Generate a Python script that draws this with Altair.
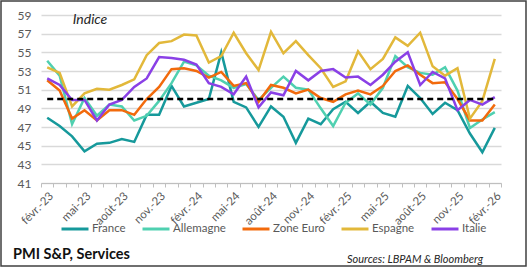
import altair as alt
import pandas as pd

# Monthly services PMI (S&P Global), Feb 2023 - Feb 2026
mois = [
    "févr.-23", "mars-23", "avr.-23", "mai-23", "juin-23", "juil.-23", "août-23",
    "sept.-23", "oct.-23", "nov.-23", "déc.-23", "janv.-24", "févr.-24", "mars-24",
    "avr.-24", "mai-24", "juin-24", "juil.-24", "août-24", "sept.-24", "oct.-24",
    "nov.-24", "déc.-24", "janv.-25", "févr.-25", "mars-25", "avr.-25", "mai-25",
    "juin-25", "juil.-25", "août-25", "sept.-25", "oct.-25", "nov.-25", "déc.-25",
    "janv.-26", "févr.-26",
]

france = [48.0, 47.1, 46.0, 44.4, 45.2, 45.3, 45.7, 45.4, 48.3, 48.3, 51.4, 49.2,
          49.6, 50.0, 55.0, 49.7, 49.1, 47.0, 49.2, 48.1, 45.3, 47.9, 47.3, 48.9,
          49.7, 48.5, 49.7, 48.5, 48.1, 51.4, 50.1, 48.4, 49.6, 48.8, 46.3, 44.3, 46.9]
allemagne = [54.1, 52.5, 47.3, 50.1, 48.2, 49.4, 49.2, 47.7, 48.2, 49.8, 51.7, 54.0,
             53.6, 52.5, 52.0, 51.2, 51.6, 49.9, 51.2, 52.4, 51.2, 51.0, 49.0, 47.1,
             49.6, 50.6, 49.4, 51.2, 54.6, 53.4, 52.8, 52.6, 53.4, 50.9, 46.9, 47.8, 48.6]
zone_euro = [52.0, 50.9, 47.9, 48.8, 47.7, 48.8, 48.8, 48.3, 50.0, 51.3, 53.2, 53.3,
             53.0, 52.3, 52.9, 51.4, 51.7, 49.7, 51.5, 51.2, 50.6, 51.0, 50.1, 49.7,
             50.5, 50.9, 50.5, 51.4, 53.0, 53.6, 52.6, 51.7, 51.8, 50.0, 47.7, 47.7, 49.4]
espagne = [53.4, 52.8, 49.2, 50.6, 51.1, 51.0, 51.5, 52.1, 54.7, 56.0, 56.2, 56.9,
           56.8, 53.9, 54.6, 57.1, 54.9, 53.1, 57.2, 54.9, 56.2, 54.7, 53.3, 51.3,
           51.9, 55.1, 53.2, 54.3, 56.6, 55.7, 57.1, 53.5, 52.5, 53.3, 47.9, 49.8, 54.3]
italie = [52.2, 51.5, 49.9, 49.9, 47.7, 49.4, 49.9, 51.3, 52.2, 54.5, 54.4, 54.2,
          53.7, 51.7, 51.3, 50.5, 52.4, 49.1, 50.7, 50.4, 53.0, 52.0, 53.0, 53.2,
          52.3, 52.4, 51.5, 52.6, 54.0, 55.0, 51.5, 52.9, 52.2, 48.8, 49.9, 49.4, 50.2]

pays = ["France", "Allemagne", "Zone Euro", "Espagne", "Italie"]
couleurs = ["#16999B", "#4FD0B0", "#F26A0C", "#E2B83A", "#8A40E6"]
seuil = 50
graduations = [41, 43, 45, 47, 49, 51, 53, 55, 57, 59]

series = dict(zip(pays, [france, allemagne, zone_euro, espagne, italie]))
rows = []
for p in pays:
    for m, v in zip(mois, series[p]):
        rows.append({"mois": m, "pays": p, "valeur": v})
df = pd.DataFrame(rows)
df_seuil = pd.DataFrame({"mois": mois, "valeur": [seuil] * len(mois)})

FONT = "Lato"
GREY = "#595959"

x_enc = alt.X(
    "mois:O",
    sort=mois,
    bandPosition=0.5,
    scale=alt.Scale(type="band", paddingInner=0, paddingOuter=0),
    axis=alt.Axis(
        title=None,
        labelExpr="test(/^(févr|mai|août|nov)/, datum.value) ? datum.value : ''",
        labelAngle=-45,
        labelFontSize=11.5,
        labelColor=GREY,
        labelFont=FONT,
        labelPadding=3,
        labelOverlap=False,
        tickBand="extent",
        ticks=True,
        tickSize=4,
        tickColor="#BFBFBF",
        domainColor="#BFBFBF",
        domainWidth=1,
        grid=False,
    ),
)

y_enc = alt.Y(
    "valeur:Q",
    scale=alt.Scale(domain=[41, 59], nice=False, zero=False),
    axis=alt.Axis(
        title=None,
        values=graduations,
        tickCount=len(graduations),
        domain=False,
        ticks=False,
        grid=True,
        gridColor="#D9D9D9",
        gridWidth=1.3,
        labelFontSize=12,
        labelColor=GREY,
        labelFont=FONT,
        labelPadding=10,
        labelOverlap=False,
    ),
)

lignes = alt.Chart(df).mark_line(strokeWidth=2.5).encode(
    x=x_enc,
    y=y_enc,
    color=alt.Color(
        "pays:N",
        sort=pays,
        scale=alt.Scale(domain=pays, range=couleurs),
        legend=alt.Legend(
            title=None,
            orient="none",
            direction="horizontal",
            legendX=19,
            legendY=199,
            padding=0,
            symbolType="stroke",
            symbolSize=729,
            symbolStrokeWidth=3,
            labelFontSize=11.5,
            labelColor=GREY,
            labelFont=FONT,
            labelOffset=2,
            columnPadding=10,
        ),
    ),
)

# dashed 50 threshold, one point per month
ligne_50 = alt.Chart(df_seuil).mark_line(
    color="black", strokeWidth=2.5, strokeDash=[6, 4]
).encode(x=x_enc, y=y_enc)

note = pd.DataFrame({"t": [""]})

indice = alt.Chart(note).mark_text(
    text="Indice", font=FONT, fontSize=14, fontStyle="italic",
    color="#262626", align="center", baseline="middle",
).encode(x=alt.value(49), y=alt.value(5))

titre = alt.Chart(note).mark_text(
    text="PMI S&P, Services", font=FONT, fontSize=14.5, fontWeight="bold",
    color="#111111", align="left", baseline="middle",
).encode(x=alt.value(-28), y=alt.value(240))

sources = alt.Chart(note).mark_text(
    text="Sources: LBPAM & Bloomberg", font=FONT, fontSize=11, fontStyle="italic",
    color="#262626", align="left", baseline="middle",
).encode(x=alt.value(306), y=alt.value(245))

cadre = alt.Chart(note).mark_rect(
    filled=False, stroke="#404040", strokeWidth=1.5
).encode(
    x=alt.value(-40), x2=alt.value(485), y=alt.value(-14), y2=alt.value(251)
)

chart = alt.layer(lignes, ligne_50, indice, titre, sources, cadre).properties(
    width=460,
    height=168,
    autosize=alt.AutoSizeParams(type="none"),
    padding={"left": 41, "top": 15, "right": 31, "bottom": 85},
    background="white",
).configure_view(stroke="transparent")

chart.save("out.html", embed_options={"renderer": "svg", "actions": False})
